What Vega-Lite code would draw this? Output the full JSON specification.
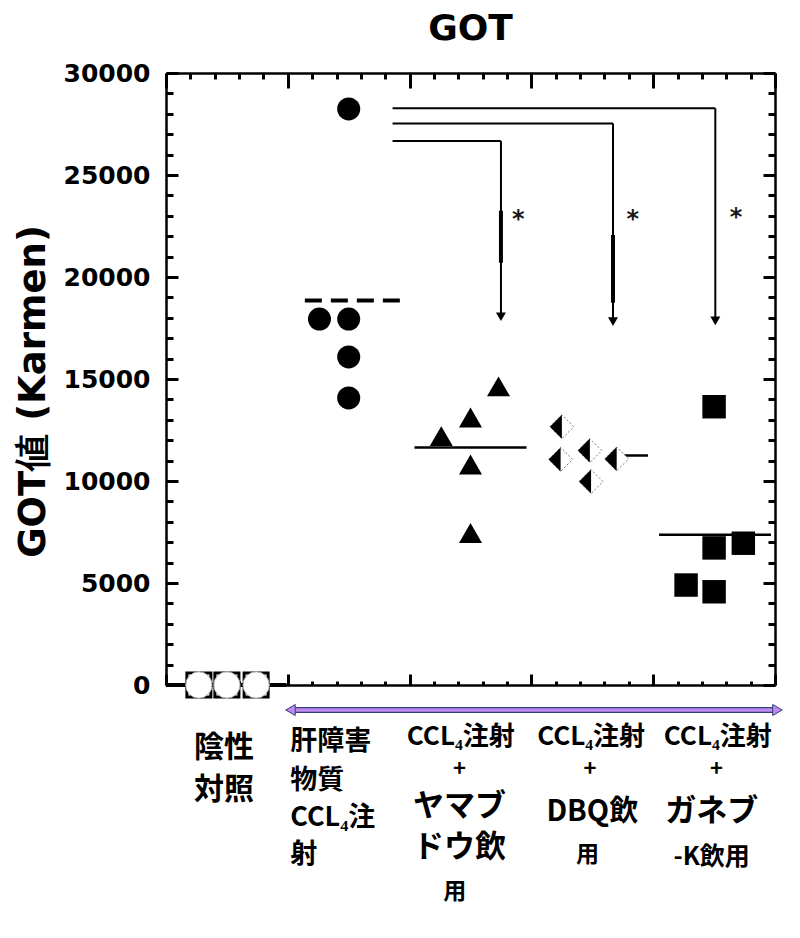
{
  "$schema": "https://vega.github.io/schema/vega-lite/v6.json",
  "width": 609,
  "height": 612,
  "autosize": {"type": "none"},
  "padding": {"left": 166, "top": 73, "right": 25, "bottom": 253},
  "background": "white",
  "config": {"view": {"stroke": null}},
  "title": {"text": "GOT", "font": "DejaVu Sans", "fontSize": 36, "fontWeight": "bold", "color": "black", "frame": "group", "anchor": "middle", "offset": 13},
  "resolve": {"axis": {"x": "independent", "y": "independent"}},
  "encoding": {
    "x": {"field": "x", "type": "quantitative", "scale": {"domain": [0, 5], "nice": false, "zero": false}, "axis": null},
    "y": {"field": "y", "type": "quantitative", "scale": {"domain": [0, 30000], "nice": false, "zero": false}, "axis": null}
  },
  "layer": [
    {
      "data": {"values": [{"x": 0, "x2": 0.99, "y": 0}]},
      "mark": {"type": "rule", "color": "black", "strokeWidth": 4},
      "encoding": {"x2": {"field": "x2"}}
    },
    {
      "data": {"values": [{"x": 1.14, "x2": 1.96, "y": 18850}]},
      "mark": {"type": "rule", "color": "black", "strokeWidth": 4, "strokeDash": [17, 9]},
      "encoding": {"x2": {"field": "x2"}}
    },
    {
      "data": {"values": [{"x": 2.04, "x2": 2.96, "y": 11640}, {"x": 3.66, "x2": 3.957, "y": 11250}, {"x": 4.048, "x2": 4.967, "y": 7360}]},
      "mark": {"type": "rule", "color": "black", "strokeWidth": 2.5},
      "encoding": {"x2": {"field": "x2"}}
    },
    {
      "data": {"values": [
        {"x": 1.86, "x2": 2.75, "y": 26670, "y2": 26670},
        {"x": 2.75, "x2": 2.75, "y": 26670, "y2": 18050},
        {"x": 1.86, "x2": 3.67, "y": 27530, "y2": 27530},
        {"x": 3.67, "x2": 3.67, "y": 27530, "y2": 17810},
        {"x": 1.86, "x2": 4.51, "y": 28270, "y2": 28270},
        {"x": 4.51, "x2": 4.51, "y": 28270, "y2": 17850}
      ]},
      "mark": {"type": "rule", "color": "black", "strokeWidth": 2},
      "encoding": {"x2": {"field": "x2"}, "y2": {"field": "y2"}}
    },
    {
      "data": {"values": [
        {"x": 2.75, "y": 23250, "y2": 20700},
        {"x": 3.67, "y": 22060, "y2": 18740}
      ]},
      "mark": {"type": "rule", "color": "black", "strokeWidth": 4},
      "encoding": {"y2": {"field": "y2"}}
    },
    {
      "data": {"values": [{"x": 2.75, "y": 18050}, {"x": 3.67, "y": 17810}, {"x": 4.51, "y": 17850}]},
      "mark": {"type": "point", "shape": "triangle-down", "filled": true, "color": "black", "opacity": 1, "size": 100}
    },
    {
      "data": {"values": [{"x": 2.893, "y": 23150}, {"x": 3.833, "y": 23150}, {"x": 4.68, "y": 23250}]},
      "mark": {"type": "text", "text": "*", "font": "DejaVu Sans", "fontSize": 24, "fontWeight": "bold", "color": "#1a1a1a", "align": "center", "baseline": "middle", "dy": 7}
    },
    {
      "data": {"values": [{"x": 0.27, "y": 0}, {"x": 0.5, "y": 0}, {"x": 0.74, "y": 0}]},
      "mark": {"type": "point", "shape": "square", "filled": true, "fill": "white", "stroke": "black", "strokeWidth": 3, "opacity": 1, "size": 576}
    },
    {
      "data": {"values": [{"x": 0.27, "y": 0}, {"x": 0.5, "y": 0}, {"x": 0.74, "y": 0}]},
      "mark": {"type": "point", "shape": "circle", "filled": true, "fill": "white", "stroke": "#b0b0b0", "strokeWidth": 1, "opacity": 1, "size": 690}
    },
    {
      "data": {"values": [{"x": 1.5, "y": 28240}, {"x": 1.26, "y": 17940}, {"x": 1.5, "y": 17940}, {"x": 1.5, "y": 16080}, {"x": 1.5, "y": 14070}]},
      "mark": {"type": "point", "shape": "circle", "filled": true, "color": "black", "opacity": 1, "size": 530},
      "encoding": {
        "x": {"field": "x", "type": "quantitative", "scale": {"domain": [0, 5], "nice": false, "zero": false},
          "axis": {"orient": "bottom", "values": [0, 1, 2, 3, 4, 5], "domain": true, "domainColor": "black", "domainWidth": 2.5, "ticks": true, "tickSize": -11, "tickWidth": 3, "tickColor": "black", "labels": false, "grid": false, "title": null}},
        "y": {"field": "y", "type": "quantitative", "scale": {"domain": [0, 30000], "nice": false, "zero": false},
          "axis": {"orient": "left", "values": [0, 5000, 10000, 15000, 20000, 25000, 30000], "format": "d", "domain": true, "domainColor": "black", "domainWidth": 2.5, "ticks": true, "tickSize": -12, "tickWidth": 3, "tickColor": "black", "grid": false,
            "labelFont": "DejaVu Sans", "labelFontSize": 25, "labelFontWeight": "bold", "labelColor": "black", "labelPadding": 28, "labelFlush": false, "labelOverlap": false,
            "title": "GOT値 (Karmen)", "titleFont": "DejaVu Sans", "titleFontSize": 37, "titleFontWeight": "bold", "titleColor": "black", "titleAngle": -90, "titleBaseline": "bottom", "titleAlign": "center", "titleX": -114, "titleY": 318}}
      }
    },
    {
      "data": {"values": [{"x": 2.26, "y": 12200}, {"x": 2.5, "y": 13110}, {"x": 2.73, "y": 14640}, {"x": 2.5, "y": 10810}, {"x": 2.5, "y": 7450}]},
      "mark": {"type": "point", "shape": "triangle-up", "filled": true, "color": "black", "opacity": 1, "size": 529},
      "encoding": {
        "x": {"field": "x", "type": "quantitative", "scale": {"domain": [0, 5], "nice": false, "zero": false},
          "axis": {"orient": "bottom", "values": [0.2, 0.4, 0.6, 0.8, 1.2, 1.4, 1.6, 1.8, 2.2, 2.4, 2.6, 2.8, 3.2, 3.4, 3.6, 3.8, 4.2, 4.4, 4.6, 4.8], "domain": false, "ticks": true, "tickSize": -4, "tickWidth": 3, "tickColor": "black", "labels": false, "grid": false, "title": null}},
        "y": {"field": "y", "type": "quantitative", "scale": {"domain": [0, 30000], "nice": false, "zero": false},
          "axis": {"orient": "left", "values": [1000, 2000, 3000, 4000, 6000, 7000, 8000, 9000, 11000, 12000, 13000, 14000, 16000, 17000, 18000, 19000, 21000, 22000, 23000, 24000, 26000, 27000, 28000, 29000], "domain": false, "ticks": true, "tickSize": -7, "tickWidth": 3, "tickColor": "black", "labels": false, "grid": false, "title": null}}
      }
    },
    {
      "data": {"values": [{"x": 3.25, "y": 12660}, {"x": 3.24, "y": 11060}, {"x": 3.48, "y": 11490}, {"x": 3.7, "y": 11080}, {"x": 3.49, "y": 9970}]},
      "mark": {"type": "point", "shape": "M-1,0L0,-1L1,0L0,1Z", "filled": true, "fill": "white", "stroke": "#777777", "strokeWidth": 1, "strokeDash": [2, 2], "opacity": 1, "size": 576}
    },
    {
      "data": {"values": [{"x": 3.25, "y": 12660}, {"x": 3.24, "y": 11060}, {"x": 3.48, "y": 11490}, {"x": 3.7, "y": 11080}, {"x": 3.49, "y": 9970}]},
      "mark": {"type": "point", "shape": "M-1,0L0,-1L0,1Z", "filled": true, "color": "black", "opacity": 1, "size": 576},
      "encoding": {
        "x": {"field": "x", "type": "quantitative", "scale": {"domain": [0, 5], "nice": false, "zero": false},
          "axis": {"orient": "top", "values": [0.2, 0.4, 0.6, 0.8, 1.2, 1.4, 1.6, 1.8, 2.2, 2.4, 2.6, 2.8, 3.2, 3.4, 3.6, 3.8, 4.2, 4.4, 4.6, 4.8], "domain": false, "ticks": true, "tickSize": -6, "tickWidth": 3, "tickColor": "black", "labels": false, "grid": false, "title": null}},
        "y": {"field": "y", "type": "quantitative", "scale": {"domain": [0, 30000], "nice": false, "zero": false},
          "axis": {"orient": "right", "values": [1000, 2000, 3000, 4000, 6000, 7000, 8000, 9000, 11000, 12000, 13000, 14000, 16000, 17000, 18000, 19000, 21000, 22000, 23000, 24000, 26000, 27000, 28000, 29000], "domain": false, "ticks": true, "tickSize": -7, "tickWidth": 3, "tickColor": "black", "labels": false, "grid": false, "title": null}}
      }
    },
    {
      "data": {"values": [{"x": 4.5, "y": 13640}, {"x": 4.5, "y": 6720}, {"x": 4.74, "y": 6950}, {"x": 4.27, "y": 4900}, {"x": 4.5, "y": 4570}]},
      "mark": {"type": "point", "shape": "square", "filled": true, "color": "black", "opacity": 1, "size": 550},
      "encoding": {
        "x": {"field": "x", "type": "quantitative", "scale": {"domain": [0, 5], "nice": false, "zero": false},
          "axis": {"orient": "top", "values": [0, 1, 2, 3, 4, 5], "domain": true, "domainColor": "black", "domainWidth": 2.5, "ticks": true, "tickSize": -15, "tickWidth": 3, "tickColor": "black", "labels": false, "grid": false, "title": null}},
        "y": {"field": "y", "type": "quantitative", "scale": {"domain": [0, 30000], "nice": false, "zero": false},
          "axis": {"orient": "right", "values": [0, 5000, 10000, 15000, 20000, 25000, 30000], "domain": true, "domainColor": "black", "domainWidth": 2.5, "ticks": true, "tickSize": -12, "tickWidth": 3, "tickColor": "black", "labels": false, "grid": false, "title": null}}
      }
    },
    {
      "data": {"values": [{"x": 1.02, "x2": 5.02, "y": -1225}]},
      "mark": {"type": "rule", "color": "#35407a", "strokeWidth": 6},
      "encoding": {"x2": {"field": "x2"}}
    },
    {
      "data": {"values": [{"x": 1.02, "x2": 5.02, "y": -1225}]},
      "mark": {"type": "rule", "color": "#bf8af0", "strokeWidth": 3.5},
      "encoding": {"x2": {"field": "x2"}}
    },
    {
      "data": {"values": [{"x": 1.022, "y": -1225, "dir": "left"}, {"x": 5.02, "y": -1225, "dir": "right"}]},
      "mark": {"type": "point", "filled": true, "fill": "#bf8af0", "stroke": "#35407a", "strokeWidth": 1, "opacity": 1, "size": 121},
      "encoding": {"shape": {"field": "dir", "type": "nominal", "scale": {"domain": ["left", "right"], "range": ["triangle-left", "triangle-right"]}, "legend": null}}
    },
    {
      "data": {"values": [{"x": 0.476, "y": -3090, "t": "陰性"}, {"x": 0.476, "y": -5150, "t": "対照"}]},
      "mark": {"type": "text", "font": "Noto Sans CJK JP", "fontSize": 30, "fontWeight": "bold", "color": "black", "align": "center", "baseline": "middle"},
      "encoding": {"text": {"field": "t"}}
    },
    {
      "data": {"values": [{"x": 1.02, "y": -2790, "t": "肝障害"}, {"x": 1.02, "y": -4700, "t": "物質"}, {"x": 1.02, "y": -6520, "t": "CCL₄注"}, {"x": 1.02, "y": -8330, "t": "射"}]},
      "mark": {"type": "text", "font": "Noto Sans CJK JP", "fontSize": 27, "fontWeight": "bold", "color": "black", "align": "left", "baseline": "middle"},
      "encoding": {"text": {"field": "t"}}
    },
    {
      "data": {"values": [
        {"x": 2.42, "y": -2550, "t": "CCL₄注射"}, {"x": 3.49, "y": -2550, "t": "CCL₄注射"}, {"x": 4.53, "y": -2550, "t": "CCL₄注射"}
      ]},
      "mark": {"type": "text", "font": "Noto Sans CJK JP", "fontSize": 26, "fontWeight": "bold", "color": "black", "align": "center", "baseline": "middle"},
      "encoding": {"text": {"field": "t"}}
    },
    {
      "data": {"values": [
        {"x": 2.41, "y": -4120, "t": "+"}, {"x": 3.48, "y": -4120, "t": "+"}, {"x": 4.52, "y": -4120, "t": "+"}
      ]},
      "mark": {"type": "text", "font": "Noto Sans CJK JP", "fontSize": 22, "fontWeight": "bold", "color": "black", "align": "center", "baseline": "middle"},
      "encoding": {"text": {"field": "t"}}
    },
    {
      "data": {"values": [{"x": 2.41, "y": -5980, "t": "ヤマブ"}, {"x": 2.41, "y": -8000, "t": "ドウ飲"}, {"x": 4.48, "y": -6230, "t": "ガネブ"}]},
      "mark": {"type": "text", "font": "Noto Sans CJK JP", "fontSize": 31, "fontWeight": "bold", "color": "black", "align": "center", "baseline": "middle"},
      "encoding": {"text": {"field": "t"}}
    },
    {
      "data": {"values": [{"x": 3.5, "y": -6230, "t": "DBQ飲"}]},
      "mark": {"type": "text", "font": "Noto Sans CJK JP", "fontSize": 29, "fontWeight": "bold", "color": "black", "align": "center", "baseline": "middle"},
      "encoding": {"text": {"field": "t"}}
    },
    {
      "data": {"values": [{"x": 2.37, "y": -10150, "t": "用"}, {"x": 3.46, "y": -8330, "t": "用"}]},
      "mark": {"type": "text", "font": "Noto Sans CJK JP", "fontSize": 23, "fontWeight": "bold", "color": "black", "align": "center", "baseline": "middle"},
      "encoding": {"text": {"field": "t"}}
    },
    {
      "data": {"values": [{"x": 4.48, "y": -8430, "t": "-K飲用"}]},
      "mark": {"type": "text", "font": "Noto Sans CJK JP", "fontSize": 25, "fontWeight": "bold", "color": "black", "align": "center", "baseline": "middle"},
      "encoding": {"text": {"field": "t"}}
    }
  ]
}
